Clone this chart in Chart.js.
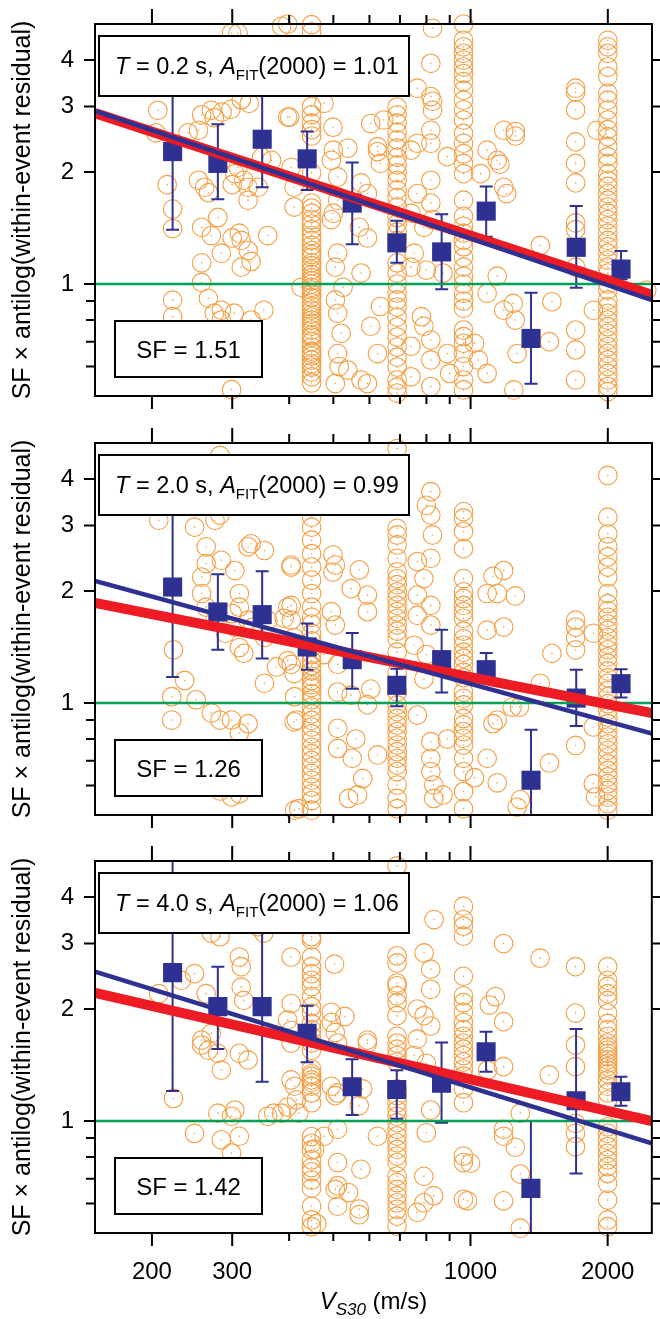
<!DOCTYPE html>
<html>
<head>
<meta charset="utf-8">
<script src="https://cdn.jsdelivr.net/npm/chart.js@4.4.1/dist/chart.umd.min.js"></script>
<style>
  html, body { margin: 0; padding: 0; background: #fff; }
  #wrap { position: relative; width: 660px; height: 1319px; overflow: hidden; }
  canvas { position: absolute; left: 0; }
</style>
</head>
<body>
<div id="wrap">
  <canvas id="c1" width="660" height="419" style="top:0px"></canvas>
  <canvas id="c2" width="660" height="418" style="top:419px"></canvas>
  <canvas id="c3" width="660" height="482" style="top:837px"></canvas>
</div>
<script>
// ---- shared values ----
const vsCols = [448, 690, 965, 1700, 2000];           // Vs30 of the dense site columns
const binVs = [222, 279, 349, 438, 550, 689, 864, 1082, 1357, 1705, 2138];
const fitVs = [150, 2500];
const periods = ['0.2', '2.0', '4.0'];
const aFit = ['1.01', '0.99', '1.06'];
const sfVals = ['1.51', '1.26', '1.42'];
const xMajor = [200, 300, 1000, 2000];
const xMinor = [400, 500, 600, 700, 800, 900];
const yMajor = [1, 2, 3, 4];
const yMinor = [0.6, 0.7, 0.8, 0.9];

// ---- panel 1: T = 0.2 s ----
const p1Red = [2.88, 0.935];
const p1Blue = [2.92, 0.905];
const p1Mean = [2.27, 2.11, 2.45, 2.17, 1.65, 1.29, 1.22, 1.57, 0.714, 1.255, 1.097];
const p1Lo = [1.40, 1.69, 1.82, 1.79, 1.28, 1.14, 0.968, 1.34, 0.539, 0.977, 1.03];
const p1Hi = [3.6, 2.69, 3.4, 2.57, 2.12, 1.48, 1.54, 1.83, 0.948, 1.62, 1.227];
const p1Cols = [
  [4.98, 4.76, 3.0, 2.85, 2.71, 2.6, 2.5, 1.99, 1.65, 1.6, 1.55, 1.49, 1.45, 1.40, 1.35, 1.31, 1.27, 1.23, 1.2, 1.18, 1.14, 1.12, 1.09, 1.06, 1.04, 1.02, 1.0, 0.98, 0.963, 0.94, 0.92, 0.89, 0.87, 0.851, 0.83, 0.815, 0.8, 0.785, 0.77, 0.752, 0.73, 0.72, 0.7, 0.677, 0.66, 0.652, 0.64, 0.625, 0.61, 0.598, 0.58, 0.563, 0.542],
  [2.99, 2.85, 2.71, 2.56, 2.44, 2.32, 2.19, 2.09, 1.99, 1.90, 1.79, 1.71, 1.61, 1.51, 1.45, 1.38, 1.31, 1.14, 1.07, 1.0, 0.946, 0.906, 0.867, 0.815, 0.766, 0.72, 0.677, 0.636, 0.598, 0.552, 0.528, 0.509],
  [5.0, 4.52, 4.34, 4.17, 4.0, 3.83, 3.68, 3.5, 3.32, 3.12, 2.94, 2.76, 2.54, 2.39, 2.24, 2.11, 1.98, 1.68, 1.52, 1.43, 1.37, 1.31, 1.26, 1.18, 1.11, 1.05, 1.0, 0.944, 0.9, 0.86, 0.752, 0.722, 0.693, 0.651, 0.6, 0.552, 0.519],
  [3.36, 3.28, 2.94, 2.41, 2.11, 1.87, 1.46, 1.40, 1.11, 0.752, 0.665, 0.552],
  [4.52, 4.34, 4.17, 3.83, 3.61, 3.26, 3.12, 2.94, 2.76, 2.6, 2.49, 2.34, 2.2, 2.11, 1.98, 1.9, 1.83, 1.75, 1.68, 1.61, 1.55, 1.49, 1.43, 1.37, 1.31, 1.26, 1.21, 1.16, 1.11, 1.07, 1.0, 0.963, 0.906, 0.869, 0.834, 0.8, 0.768, 0.737, 0.707, 0.678, 0.651, 0.625, 0.6, 0.575, 0.552, 0.53, 0.514]
];
const p1Free = [
  [206,2.93],[204,2.55],[216,1.85],[222,1.59],[222,1.41],[222,0.905],[222,0.817],[299,0.52],[253,2.59],[253,1.9],
  [257,1.42],[257,1.14],[257,1.01],[266,0.915],[274,0.835],[270,2.93],[274,2.8],[261,1.82],[266,1.76],[279,1.51],
  [284,1.21],[284,0.85],[303,0.835],[311,1.37],[314,1.11],[314,1.31],[325,1.23],[304,1.98],[309,2.06],[325,1.82],
  [325,1.68],[314,3.13],[327,3.06],[309,4.72],[284,0.8],[342,1.82],[348,2.19],[359,1.35],[352,0.85],[366,2.15],
  [397,2.81],[404,2.06],[410,1.82],[410,1.61],[425,0.98],[299,4.73],[385,4.93],[397,5.0],[257,2.85],[285,2.9],
  [298,2.95],[240,2.55],[300,1.85],[318,1.9],[270,1.35],[300,1.33],[330,1.15],[330,0.8],[310,0.65],
  [401,2.81],[499,2.64],[538,2.32],[495,2.15],[511,1.94],[575,1.87],[594,1.75],[511,1.68],[495,1.49],[570,1.42],
  [594,1.33],[511,1.21],[505,1.11],[575,1.07],[525,0.98],[511,0.834],[520,0.737],[511,0.65],[538,0.587],[575,0.552],
  [625,2.34],[634,2.11],[604,2.7],[634,0.87],[604,0.77],[625,0.65],[594,0.54],[477,3.06],[500,2.29],[500,1.55],
  [505,0.906],[515,0.6],[505,0.54],
  [645,2.76],[625,2.27],[764,3.36],[818,3.92],[825,4.87],[818,3.19],[825,3.1],[825,2.93],[818,2.59],[818,2.39],
  [764,2.39],[740,2.29],[889,2.2],[818,1.9],[764,1.75],[818,1.65],[740,1.55],[790,1.42],[825,1.49],[752,1.21],
  [740,1.11],[800,1.09],[870,1.07],[780,0.817],[790,0.77],[818,0.707],[818,0.625],[889,0.65],[818,0.53],[740,0.563],
  [900,0.575],[740,0.68],
  [1182,2.59],[1254,2.57],[1254,2.5],[1144,2.15],[1160,2.1],[1087,2.29],[1052,1.98],[1182,1.82],[1200,1.75],[1422,1.27],
  [1144,1.05],[1087,0.944],[1182,0.85],[1240,0.887],[1254,0.8],[1020,0.693],[1040,0.625],[1087,0.575],[1244,0.519],[1508,0.896],
  [1489,0.7],[1265,0.65],[1859,0.85],[1893,2.59],[2435,0.963]
];

// ---- panel 2: T = 2.0 s ----
const p2Red = [1.857, 0.94];
const p2Blue = [2.13, 0.827];
const p2Mean = [2.05, 1.757, 1.728, 1.415, 1.308, 1.116, 1.308, 1.229, 0.62, 1.031, 1.127];
const p2Lo = [1.175, 1.39, 1.318, 1.229, 1.093, 0.98, 1.068, 1.17, 0.45, 0.867, 1.034];
const p2Hi = [3.6, 2.22, 2.26, 1.635, 1.543, 1.237, 1.575, 1.362, 0.848, 1.229, 1.232];
const p2Cols = [
  [3.16, 2.97, 2.74, 2.52, 2.32, 2.14, 1.97, 1.81, 1.70, 1.63, 1.54, 1.47, 1.41, 1.35, 1.30, 1.26, 1.22, 1.18, 1.15, 1.12, 1.10, 1.06, 1.02, 0.975, 0.936, 0.898, 0.862, 0.827, 0.794, 0.76, 0.731, 0.701, 0.673, 0.646, 0.62, 0.594, 0.57, 0.547, 0.515],
  [4.83, 2.95, 2.83, 2.66, 2.45, 2.25, 2.16, 2.08, 1.99, 1.91, 1.83, 1.76, 1.69, 1.62, 1.56, 1.49, 1.37, 1.21, 1.07, 0.988, 0.948, 0.909, 0.873, 0.838, 0.804, 0.771, 0.74, 0.71, 0.681, 0.654, 0.602, 0.554, 0.52],
  [3.27, 3.14, 2.89, 2.6, 2.16, 1.99, 1.91, 1.83, 1.76, 1.69, 1.56, 1.49, 1.43, 1.37, 1.32, 1.27, 1.21, 1.17, 1.07, 1.03, 0.988, 0.909, 0.873, 0.838, 0.804, 0.771, 0.71, 0.654, 0.578, 0.52],
  [1.67, 1.6, 1.5, 1.39, 0.769],
  [4.09, 3.16, 2.85, 2.63, 2.47, 2.32, 2.18, 1.97, 1.85, 1.77, 1.70, 1.63, 1.57, 1.5, 1.44, 1.39, 1.33, 1.28, 1.22, 1.17, 1.13, 1.08, 1.04, 0.996, 0.956, 0.917, 0.88, 0.845, 0.81, 0.777, 0.746, 0.716, 0.687, 0.659, 0.633, 0.607, 0.582, 0.559, 0.536, 0.515]
];
const p2Free = [
  [282,4.63],[207,3.1],[248,2.97],[275,3.1],[282,3.2],[263,2.63],[263,2.37],[284,2.42],[304,2.27],[325,2.63],
  [330,2.68],[353,2.57],[257,1.97],[257,2.18],[263,1.81],[275,1.67],[290,1.54],[304,1.6],[311,1.41],[318,1.36],
  [311,1.97],[311,1.81],[325,1.67],[300,1.74],[333,1.6],[359,1.67],[353,1.5],[353,1.13],[375,1.25],[397,1.3],
  [397,1.81],[404,1.67],[410,1.5],[404,2.32],[410,1.2],[411,1.04],[415,0.9],[411,0.515],[223,1.39],[236,1.15],
  [221,1.04],[221,0.9],[250,1.02],[270,0.94],[282,0.9],[299,0.9],[325,0.88],[311,0.83],[299,0.56],[311,0.57],
  [282,0.58],
  [499,2.5],[505,2.35],[499,2.25],[570,2.28],[404,2.35],[547,2.03],[594,1.95],[594,1.76],[495,1.76],[505,1.62],
  [477,1.35],[511,1.27],[404,1.83],[390,1.69],[404,1.27],[410,0.89],[511,0.855],[511,0.755],[560,0.8],[550,0.71],
  [625,0.725],[580,0.627],[540,0.554],[565,0.566],[420,0.52],[594,0.99],[547,1.05],[604,1.09],[511,1.07],
  [818,3.7],[800,3.4],[818,3.2],[825,2.83],[818,2.45],[764,2.4],[790,2.16],[764,1.95],[818,1.83],[764,1.72],
  [818,1.62],[752,1.43],[800,1.35],[790,1.16],[764,0.928],[818,0.787],[889,0.8],[818,0.71],[818,0.654],[830,0.602],
  [830,0.554],[870,0.566],
  [1144,1.97],[1182,2.27],[1120,2.19],[1254,1.94],[1182,1.6],[1087,1.97],[1087,1.57],[1233,0.975],[1280,0.975],[1422,1.13],
  [1508,1.36],[1489,0.69],[1144,0.9],[1120,0.88],[1144,0.61],[1286,0.55],[1265,0.525],[1020,0.63],[1087,0.71],
  [1859,1.54],[1859,0.862],[1859,0.607],[1880,0.559]
];

// ---- panel 3: T = 4.0 s ----
const p3Red = [2.21, 1.0];
const p3Blue = [2.52, 0.871];
const p3Mean = [2.505, 2.03, 2.03, 1.72, 1.236, 1.216, 1.263, 1.536, 0.659, 1.134, 1.199];
const p3Lo = [1.204, 1.562, 1.276, 1.438, 1.038, 1.014, 0.99, 1.357, 0.45, 0.723, 1.099];
const p3Hi = [5.5, 2.60, 3.6, 2.04, 1.465, 1.37, 1.627, 1.738, 1.0, 1.767, 1.315];
const p3Cols = [
  [3.13, 3.07, 2.76, 2.6, 2.49, 2.39, 2.3, 2.16, 2.03, 1.95, 1.83, 1.76, 1.69, 1.62, 1.55, 1.38, 1.34, 1.32, 1.29, 1.27, 1.24, 1.19, 1.12, 0.908, 0.871, 0.836, 0.786, 0.75, 0.73, 0.694, 0.66, 0.59, 0.542, 0.52],
  [4.85, 2.78, 2.66, 2.35, 2.31, 2.17, 2.08, 1.92, 1.69, 1.62, 1.56, 1.5, 1.44, 1.22, 1.17, 1.12, 1.07, 1.03, 0.99, 0.95, 0.911, 0.874, 0.839, 0.805, 0.773, 0.711, 0.683, 0.655, 0.629, 0.603, 0.579, 0.555, 0.522],
  [3.78, 3.48, 3.34, 3.14, 2.45, 2.17, 2.08, 1.96, 1.84, 1.76, 1.69, 1.62, 1.56, 1.5, 1.44, 1.38, 1.32, 1.22, 1.12, 0.805, 0.773, 0.616],
  [2.6, 1.95, 1.6, 1.4, 0.986, 0.927, 0.853],
  [2.6, 2.39, 2.3, 2.2, 2.11, 1.95, 1.83, 1.76, 1.69, 1.62, 1.58, 1.55, 1.52, 1.49, 1.46, 1.43, 1.4, 1.37, 1.34, 1.29, 1.24, 1.19, 1.14, 0.965, 0.927, 0.889, 0.853, 0.819, 0.786, 0.754, 0.723, 0.68, 0.613, 0.542, 0.52]
];
const p3Free = [
  [207,2.2],[223,1.15],[232,2.39],[248,2.49],[257,1.65],[248,0.926],[263,2.2],[270,1.72],[279,1.52],[284,1.37],
  [279,1.05],[284,0.89],[299,1.03],[299,0.82],[304,1.07],[311,0.91],[311,1.52],[318,2.11],[314,2.29],[325,1.46],
  [314,2.6],[311,2.76],[270,3.2],[282,3.13],[342,3.33],[352,3.2],[359,1.03],[370,1.05],[404,2.76],[404,2.07],
  [397,1.87],[404,1.62],[404,1.29],[397,1.09],[415,1.14],[257,1.6],[266,1.55],[411,1.24],[404,1.75],
  [503,2.64],[495,1.96],[495,1.84],[505,1.73],[511,1.62],[530,1.91],[495,1.24],[505,1.17],[594,1.62],[580,1.22],
  [570,1.1],[385,1.05],[420,1.05],[477,0.91],[455,0.84],[511,0.773],[575,0.742],[505,0.655],[540,0.642],[511,0.59],
  [570,0.58],[625,0.91],[460,0.53],[511,1.19],[511,0.95],[511,0.67],[570,0.56],[594,1.65],
  [832,3.48],[791,2.83],[818,2.56],[818,2.26],[764,2.0],[791,1.92],[818,1.8],[764,1.66],[752,1.5],[800,1.43],
  [818,1.07],[800,0.93],[790,0.71],[830,0.63],[790,0.603],[764,0.568],
  [1182,3.0],[1134,2.16],[1100,2.05],[1182,1.85],[1182,1.4],[1090,1.37],[1422,2.74],[1489,1.33],[1286,1.05],[1182,0.95],
  [1182,0.91],[1254,0.85],[1286,0.72],[1182,0.61],[1286,0.515],[1000,0.77],[985,0.61]
];

const FONT = '"Liberation Sans", Arial, Helvetica, sans-serif';
const ORANGE = 'rgb(246,158,66)';
const NAVY = 'rgb(46,49,146)';
const RED = 'rgb(237,28,36)';
const GREEN = 'rgb(0,160,86)';
const Y_TITLE = 'SF \u00d7 antilog(within-event residual)';

const panelCfg = new Map();

function drawRuns(ctx, parts, x, y) {
  let cx = x;
  parts.forEach(p => {
    ctx.font = p.f;
    ctx.fillText(p.t, cx, y + (p.dy || 0));
    cx += ctx.measureText(p.t).width;
  });
}
function runsWidth(ctx, parts) {
  let w = 0;
  parts.forEach(p => { ctx.font = p.f; w += ctx.measureText(p.t).width; });
  return w;
}

const panelPlugin = {
  id: 'panel',
  beforeDatasetDraw(chart, args) {
    if (chart.data.datasets[args.index].label !== 'bins') return;
    const cfg = panelCfg.get(chart.canvas);
    const { ctx, chartArea: a, scales: { x, y } } = chart;
    ctx.save();
    ctx.beginPath();
    ctx.rect(a.left, a.top, a.right - a.left, a.bottom - a.top);
    ctx.clip();
    ctx.strokeStyle = NAVY;
    ctx.lineWidth = 2;
    ctx.beginPath();
    binVs.forEach((v, i) => {
      const px = x.getPixelForValue(v);
      const pl = y.getPixelForValue(cfg.lo[i]);
      const ph = y.getPixelForValue(cfg.hi[i]);
      ctx.moveTo(px, pl); ctx.lineTo(px, ph);
      ctx.moveTo(px - 6.5, pl); ctx.lineTo(px + 6.5, pl);
      ctx.moveTo(px - 6.5, ph); ctx.lineTo(px + 6.5, ph);
    });
    ctx.stroke();
    ctx.restore();
  },
  afterDraw(chart) {
    const cfg = panelCfg.get(chart.canvas);
    const { ctx, chartArea: a, scales: { x, y } } = chart;
    const i = cfg.idx;
    ctx.save();
    // frame and tick marks
    ctx.strokeStyle = '#000';
    ctx.lineWidth = 2;
    ctx.strokeRect(a.left, a.top, a.right - a.left, a.bottom - a.top);
    ctx.beginPath();
    xMajor.forEach(v => {
      const p = x.getPixelForValue(v);
      ctx.moveTo(p, a.top); ctx.lineTo(p, a.top - 15);
      ctx.moveTo(p, a.bottom); ctx.lineTo(p, a.bottom + 13);
    });
    xMinor.forEach(v => {
      const p = x.getPixelForValue(v);
      ctx.moveTo(p, a.top); ctx.lineTo(p, a.top - 9);
      ctx.moveTo(p, a.bottom); ctx.lineTo(p, a.bottom + 8);
    });
    yMajor.forEach(v => {
      const p = y.getPixelForValue(v);
      ctx.moveTo(a.left, p); ctx.lineTo(a.left - 11, p);
      ctx.moveTo(a.right, p); ctx.lineTo(a.right + 11, p);
    });
    yMinor.forEach(v => {
      const p = y.getPixelForValue(v);
      ctx.moveTo(a.left, p); ctx.lineTo(a.left - 9, p);
      ctx.moveTo(a.right, p); ctx.lineTo(a.right + 9, p);
    });
    ctx.stroke();

    // y title
    ctx.fillStyle = '#000';
    ctx.save();
    ctx.translate(23, (a.top + a.bottom) / 2);
    ctx.rotate(-Math.PI / 2);
    ctx.font = '25px ' + FONT;
    ctx.textAlign = 'center';
    ctx.textBaseline = 'middle';
    ctx.fillText(Y_TITLE, 0, 0);
    ctx.restore();

    // period / A_FIT box
    const norm = '23.5px ' + FONT, ital = 'italic 23.5px ' + FONT;
    const bx = a.left + 4, by = a.top + 12, bw = 310, bh = 60;
    ctx.fillStyle = '#fff';
    ctx.fillRect(bx, by, bw, bh);
    ctx.strokeRect(bx, by, bw, bh);
    ctx.fillStyle = '#000';
    ctx.textAlign = 'left';
    ctx.textBaseline = 'alphabetic';
    drawRuns(ctx, [
      { t: 'T', f: ital },
      { t: ' = ' + periods[i] + ' s, ', f: norm },
      { t: 'A', f: ital },
      { t: 'FIT', f: '15px ' + FONT, dy: 6 },
      { t: '(2000) = ' + aFit[i], f: norm }
    ], bx + 16, by + 38);

    // SF box
    const sx = a.left + 20, sy = a.top + 297, sw = 147, sh = 56;
    ctx.fillStyle = '#fff';
    ctx.fillRect(sx, sy, sw, sh);
    ctx.strokeRect(sx, sy, sw, sh);
    ctx.fillStyle = '#000';
    ctx.font = '24px ' + FONT;
    ctx.textAlign = 'center';
    ctx.fillText('SF = ' + sfVals[i], sx + sw / 2, sy + 37);

    // x title on the bottom panel
    if (cfg.bottom) {
      const parts = [
        { t: 'V', f: 'italic 24px ' + FONT },
        { t: 'S30', f: 'italic 17px ' + FONT, dy: 6 },
        { t: ' (m/s)', f: '24px ' + FONT }
      ];
      ctx.textAlign = 'left';
      const w = runsWidth(ctx, parts);
      drawRuns(ctx, parts, (a.left + a.right) / 2 - w / 2, chart.height - 10);
    }
    ctx.restore();
  }
};
Chart.register(panelPlugin);

function makePanel(id, idx, cols, free, mean, lo, hi, red, blue, bottom) {
  const canvas = document.getElementById(id);
  panelCfg.set(canvas, { idx, lo, hi, bottom });
  const pts = [];
  cols.forEach((vals, c) => vals.forEach(v => pts.push({ x: vsCols[c], y: v })));
  free.forEach(p => pts.push({ x: p[0], y: p[1] }));
  const xAxisH = canvas.height - 396;

  new Chart(canvas, {
    type: 'scatter',
    data: {
      datasets: [
        { label: 'sites', data: pts, pointStyle: 'circle', pointRadius: 9.3, borderColor: ORANGE,
          borderWidth: 1.1, backgroundColor: 'rgba(0,0,0,0)', clip: false, order: 10 },
        { label: 'siteDots', data: pts, pointStyle: 'circle', pointRadius: 0.8, borderWidth: 0,
          backgroundColor: ORANGE, clip: false, order: 9 },
        { label: 'bins', data: binVs.map((v, k) => ({ x: v, y: mean[k] })), pointStyle: 'rect',
          pointRadius: 13.5, borderWidth: 0, backgroundColor: NAVY, order: 5 },
        { label: 'unity', data: fitVs.map(v => ({ x: v, y: 1 })), showLine: true, borderColor: GREEN,
          borderWidth: 2.5, pointRadius: 0, order: 4 },
        { label: 'fit', data: fitVs.map((v, k) => ({ x: v, y: red[k] })), showLine: true, borderColor: RED,
          borderWidth: 10, borderCapStyle: 'butt', pointRadius: 0, order: 3 },
        { label: 'bestFit', data: fitVs.map((v, k) => ({ x: v, y: blue[k] })), showLine: true, borderColor: NAVY,
          borderWidth: 4.5, borderCapStyle: 'butt', pointRadius: 0, order: 2 }
      ]
    },
    options: {
      responsive: false,
      animation: false,
      devicePixelRatio: 1,
      events: [],
      layout: { autoPadding: false, padding: { top: 24, right: 8, left: 0, bottom: 0 } },
      plugins: { legend: { display: false }, tooltip: { enabled: false } },
      scales: {
        x: {
          type: 'logarithmic', position: 'bottom', min: 150, max: 2500,
          grid: { display: false, drawTicks: false }, border: { display: false },
          ticks: { display: bottom, autoSkip: false, maxRotation: 0, color: '#000', padding: 25,
            font: { family: FONT, size: 24 }, callback: v => String(v) },
          afterBuildTicks: s => { s.ticks = xMajor.map(v => ({ value: v })); },
          afterFit: s => { s.height = xAxisH; }
        },
        y: {
          type: 'logarithmic', position: 'left', min: 0.5, max: 5,
          grid: { display: false, drawTicks: true, tickLength: 21 }, border: { display: false },
          ticks: { autoSkip: false, color: '#000', padding: 0,
            font: { family: FONT, size: 24 }, callback: v => String(v) },
          afterBuildTicks: s => { s.ticks = yMajor.map(v => ({ value: v })); },
          afterFit: s => { s.width = 95; }
        }
      }
    }
  });
}

makePanel('c1', 0, p1Cols, p1Free, p1Mean, p1Lo, p1Hi, p1Red, p1Blue, false);
makePanel('c2', 1, p2Cols, p2Free, p2Mean, p2Lo, p2Hi, p2Red, p2Blue, false);
makePanel('c3', 2, p3Cols, p3Free, p3Mean, p3Lo, p3Hi, p3Red, p3Blue, true);
</script>
</body>
</html>
